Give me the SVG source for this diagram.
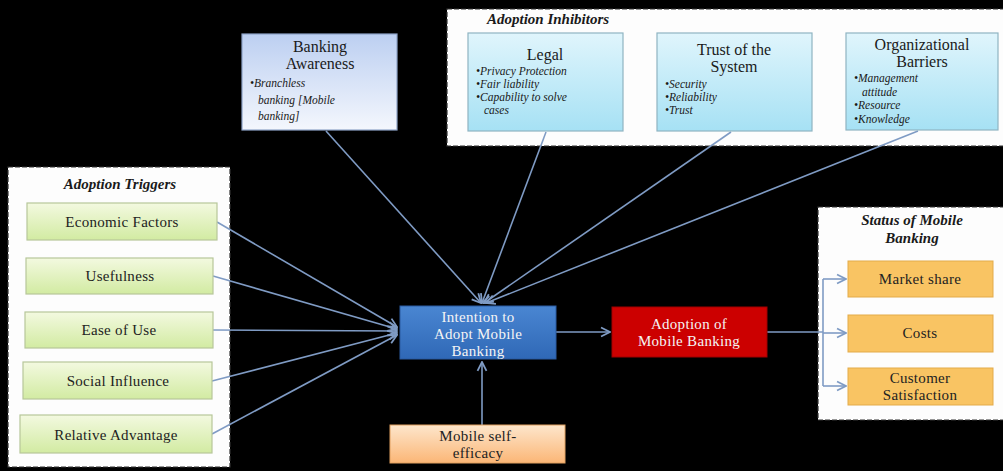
<svg xmlns="http://www.w3.org/2000/svg" width="1003" height="471" viewBox="0 0 1003 471" font-family="Liberation Serif, Times New Roman, Times, DejaVu Serif, serif">
  <defs>
    <linearGradient id="gGreen" x1="0" y1="0" x2="0" y2="1">
      <stop offset="0" stop-color="#f3f9e0"/>
      <stop offset="1" stop-color="#d2eba2"/>
    </linearGradient>
    <linearGradient id="gCyan" x1="0" y1="0" x2="0" y2="1">
      <stop offset="0" stop-color="#e0f5fc"/>
      <stop offset="1" stop-color="#a6e1f4"/>
    </linearGradient>
    <linearGradient id="gAware" x1="0" y1="0" x2="0" y2="1">
      <stop offset="0" stop-color="#bccff1"/>
      <stop offset="1" stop-color="#f4f7fd"/>
    </linearGradient>
    <linearGradient id="gBlue" x1="0" y1="0" x2="0" y2="1">
      <stop offset="0" stop-color="#4a86d2"/>
      <stop offset="1" stop-color="#2f68b6"/>
    </linearGradient>
    <linearGradient id="gPeach" x1="0" y1="0" x2="0" y2="1">
      <stop offset="0" stop-color="#fde6cc"/>
      <stop offset="1" stop-color="#fbb676"/>
    </linearGradient>
    <marker id="arr" viewBox="0 0 10 10" refX="9" refY="5" markerWidth="7" markerHeight="7" orient="auto">
      <path d="M1,1 L9,5 L1,9" fill="none" stroke="#7f9bc4" stroke-width="1.6"/>
    </marker>
    <style>
      .panel { fill: #fdfdfd; stroke: #333; stroke-width: 1.2; stroke-dasharray: 5 2; }
      .green { fill: url(#gGreen); stroke: #b7c79a; stroke-width: 1.2; }
      .cyan { fill: url(#gCyan); stroke: #8fb4c2; stroke-width: 1.2; }
      .status { fill: #f9c463; stroke: #e3ab4a; stroke-width: 1; }
      .title { font-weight: bold; font-style: italic; font-size: 15px; fill: #1a1a1a; }
      .head { font-size: 16px; fill: #1a1a1a; text-anchor: middle; }
      .bul { font-style: italic; font-size: 11.5px; fill: #1a1a1a; }
      .lbl { font-size: 15px; fill: #222; text-anchor: middle; letter-spacing: 0.3px; }
      .wlbl { font-size: 15px; fill: #f4f4f4; text-anchor: middle; letter-spacing: 0.3px; }
      .conn { stroke: #7f9bc4; stroke-width: 1.6; fill: none; }
    </style>
  </defs>

  <rect width="1003" height="471" fill="#000"/>

  <!-- group panels -->
  <g id="triggers-panel">
    <rect class="panel" x="8" y="167" width="222" height="300"/>
    <text class="title" x="120" y="189" text-anchor="middle">Adoption Triggers</text>
  </g>
  <g id="inhibitors-panel">
    <rect class="panel" x="447" y="9" width="560" height="137"/>
    <text class="title" x="487" y="24">Adoption Inhibitors</text>
  </g>
  <g id="status-panel">
    <rect class="panel" x="818" y="207" width="190" height="213"/>
    <text class="title" x="912" y="225" text-anchor="middle">Status of Mobile</text>
    <text class="title" x="912" y="243" text-anchor="middle">Banking</text>
  </g>

  <!-- connectors -->
  <g id="connectors">
    <line class="conn" x1="217" y1="222" x2="397" y2="327" marker-end="url(#arr)"/>
    <line class="conn" x1="213" y1="276" x2="397" y2="329" marker-end="url(#arr)"/>
    <line class="conn" x1="213" y1="330" x2="397" y2="331" marker-end="url(#arr)"/>
    <line class="conn" x1="212" y1="381" x2="397" y2="333" marker-end="url(#arr)"/>
    <line class="conn" x1="212" y1="434" x2="397" y2="335" marker-end="url(#arr)"/>
    <line class="conn" x1="326" y1="131" x2="481" y2="303" marker-end="url(#arr)"/>
    <line class="conn" x1="546" y1="132" x2="482" y2="303" marker-end="url(#arr)"/>
    <line class="conn" x1="731" y1="132" x2="484" y2="303" marker-end="url(#arr)"/>
    <line class="conn" x1="918" y1="131" x2="486" y2="303" marker-end="url(#arr)"/>
    <line class="conn" x1="482" y1="425" x2="482" y2="362" marker-end="url(#arr)"/>
    <line class="conn" x1="556" y1="332" x2="610" y2="332" marker-end="url(#arr)"/>
    <path class="conn" d="M767,332 H823"/>
    <path class="conn" d="M823,279 V386"/>
    <line class="conn" x1="823" y1="279" x2="846" y2="279" marker-end="url(#arr)"/>
    <line class="conn" x1="823" y1="333" x2="846" y2="333" marker-end="url(#arr)"/>
    <line class="conn" x1="823" y1="386" x2="846" y2="386" marker-end="url(#arr)"/>
  </g>

  <!-- adoption triggers -->
  <g id="economic-factors">
    <rect class="green" x="27" y="203" width="190" height="37"/>
    <text class="lbl" x="122" y="227">Economic  Factors</text>
  </g>
  <g id="usefulness">
    <rect class="green" x="26" y="258" width="187" height="36"/>
    <text class="lbl" x="120" y="281">Usefulness</text>
  </g>
  <g id="ease-of-use">
    <rect class="green" x="25" y="312" width="188" height="36"/>
    <text class="lbl" x="119" y="335">Ease of Use</text>
  </g>
  <g id="social-influence">
    <rect class="green" x="23" y="362" width="189" height="37"/>
    <text class="lbl" x="118" y="386">Social  Influence</text>
  </g>
  <g id="relative-advantage">
    <rect class="green" x="20" y="415" width="192" height="38"/>
    <text class="lbl" x="116" y="440">Relative  Advantage</text>
  </g>

  <!-- banking awareness -->
  <g id="banking-awareness">
    <rect x="242" y="34" width="155" height="96" fill="url(#gAware)" stroke="#8ea3c9" stroke-width="1.2"/>
    <text class="head" x="320" y="52" font-size="15">Banking</text>
    <text class="head" x="320" y="69" font-size="15">Awareness</text>
    <text class="bul" x="250" y="87" font-size="14">•Branchless</text>
    <text class="bul" x="258" y="104" font-size="14">banking [Mobile</text>
    <text class="bul" x="258" y="120" font-size="14">banking]</text>
  </g>

  <!-- adoption inhibitors -->
  <g id="legal">
    <rect class="cyan" x="468" y="33" width="155" height="98"/>
    <text class="head" x="545" y="60">Legal</text>
    <text class="bul" x="476" y="75">•Privacy Protection</text>
    <text class="bul" x="476" y="88">•Fair liability</text>
    <text class="bul" x="476" y="101">•Capability to solve</text>
    <text class="bul" x="484" y="114">cases</text>
  </g>
  <g id="trust-of-the-system">
    <rect class="cyan" x="657" y="33" width="155" height="98"/>
    <text class="head" x="734" y="55">Trust of the</text>
    <text class="head" x="734" y="72">System</text>
    <text class="bul" x="665" y="88">•Security</text>
    <text class="bul" x="665" y="101">•Reliability</text>
    <text class="bul" x="665" y="114">•Trust</text>
  </g>
  <g id="organizational-barriers">
    <rect class="cyan" x="846" y="33" width="152" height="97"/>
    <text class="head" x="922" y="50">Organizational</text>
    <text class="head" x="922" y="67">Barriers</text>
    <text class="bul" x="854" y="82">•Management</text>
    <text class="bul" x="862" y="96">attitude</text>
    <text class="bul" x="854" y="109">•Resource</text>
    <text class="bul" x="854" y="123">•Knowledge</text>
  </g>

  <!-- central chain -->
  <g id="intention">
    <rect x="400" y="306" width="156" height="53" fill="url(#gBlue)" stroke="#2a5aa0" stroke-width="1"/>
    <text class="wlbl" x="478" y="322">Intention to</text>
    <text class="wlbl" x="478" y="339">Adopt  Mobile</text>
    <text class="wlbl" x="478" y="356">Banking</text>
  </g>
  <g id="adoption">
    <rect x="612" y="307" width="155" height="50" fill="#cc0000" stroke="#a00000" stroke-width="1"/>
    <text class="wlbl" x="689" y="329">Adoption  of</text>
    <text class="wlbl" x="689" y="346">Mobile  Banking</text>
  </g>
  <g id="mobile-self-efficacy">
    <rect x="390" y="425" width="175" height="38" fill="url(#gPeach)" stroke="#e0a060" stroke-width="1"/>
    <text class="lbl" x="478" y="441" font-size="16">Mobile self-</text>
    <text class="lbl" x="478" y="458" font-size="16">efficacy</text>
  </g>

  <!-- status of mobile banking -->
  <g id="market-share">
    <rect class="status" x="848" y="261" width="145" height="36"/>
    <text class="lbl" x="920" y="284">Market  share</text>
  </g>
  <g id="costs">
    <rect class="status" x="848" y="315" width="145" height="37"/>
    <text class="lbl" x="920" y="338">Costs</text>
  </g>
  <g id="customer-satisfaction">
    <rect class="status" x="848" y="368" width="145" height="37"/>
    <text class="lbl" x="920" y="383">Customer</text>
    <text class="lbl" x="920" y="400">Satisfaction</text>
  </g>
</svg>
